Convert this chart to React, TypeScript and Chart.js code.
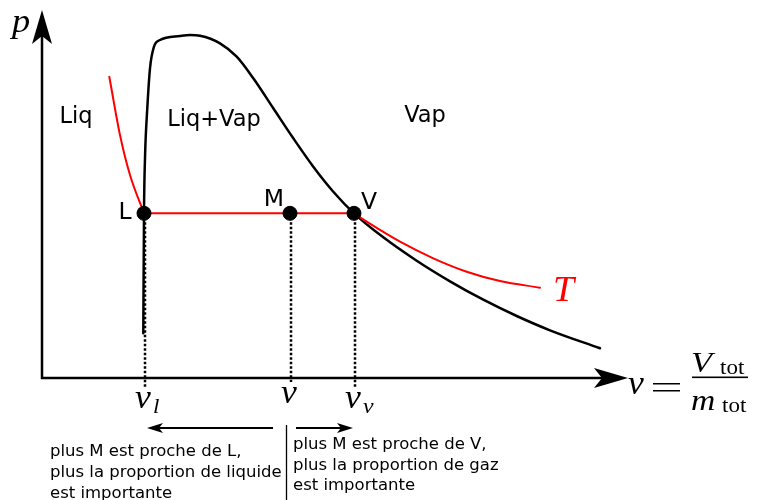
import { useEffect, useRef } from "react";
import { Chart, registerables } from "chart.js";
Chart.register(...registerables);

// Units: specific volume v (horizontal), pressure p (vertical), arbitrary units
const saturationV = [10.13, 10.2, 10.3, 10.53, 10.8, 11.2, 11.8, 13.8, 14.8, 15.8, 17.8, 19.47, 21.13, 23.13, 25.13, 27.13, 29.13, 31.2, 34.13, 37.47, 40.8, 44.13, 47.47, 50.8, 55.8];
const saturationP = [4.47, 16.47, 21.97, 26.97, 30.97, 33.13, 33.8, 34.2, 34.3, 34.23, 33.47, 32.13, 29.97, 26.97, 23.97, 21.13, 18.63, 16.47, 14.07, 11.73, 9.67, 7.83, 6.2, 4.77, 2.97];
const isothermLiqV = [6.73, 7.8, 8.8, 10.2];
const isothermLiqP = [30.13, 24.3, 20.3, 16.47];
const isothermMixV = [10.2, 31.2];
const isothermMixP = [16.47, 16.47];
const isothermVapV = [31.2, 32.47, 35.8, 39.13, 42.47, 45.8, 49.8];
const isothermVapP = [16.47, 15.63, 13.63, 11.97, 10.63, 9.7, 9.03];
const stateNames = ["L", "M", "V"];
const stateV = [10.2, 24.8, 31.2];
const stateP = [16.47, 16.47, 16.47];
const dropEndP = [-0.9, -0.4, -0.9];
const regionLabels = ["Liq", "Liq+Vap", "Vap"];
const regionV = [3.4, 17.2, 38.3];
const regionP = [26.1, 25.8, 26.2];
const leftNote = ["plus M est proche de L,", "plus la proportion de liquide", "est importante"];
const rightNote = ["plus M est proche de V,", "plus la proportion de gaz", "est importante"];

const V_MIN = -4.2, V_MAX = 71.6, P_MIN = -12.2, P_MAX = 37.8;

function stealth(ctx: CanvasRenderingContext2D, tx: number, ty: number, dx: number, dy: number, len: number, half: number, notch: number) {
  const nx = -dy, ny = dx;
  ctx.beginPath();
  ctx.moveTo(tx, ty);
  ctx.lineTo(tx - dx * len + nx * half, ty - dy * len + ny * half);
  ctx.lineTo(tx - dx * (len - notch), ty - dy * (len - notch));
  ctx.lineTo(tx - dx * len - nx * half, ty - dy * len - ny * half);
  ctx.closePath();
  ctx.fill();
}

const diagramPlugin = {
  id: "diagram",
  beforeDatasetsDraw(chart: any) {
    const ctx: CanvasRenderingContext2D = chart.ctx;
    const X = (v: number) => chart.scales.x.getPixelForValue(v);
    const Y = (p: number) => chart.scales.y.getPixelForValue(p);
    ctx.save();
    ctx.strokeStyle = "#000";
    ctx.fillStyle = "#000";
    ctx.lineWidth = 2.5;
    const ox = X(0), oy = Y(0);
    ctx.beginPath();
    ctx.moveTo(ox, oy + 1);
    ctx.lineTo(ox, Y(34.5));
    ctx.moveTo(ox - 1, oy);
    ctx.lineTo(X(56.0), oy);
    ctx.stroke();
    stealth(ctx, ox, Y(36.8), 0, -1, 34, 10, 8);
    stealth(ctx, X(58.6), oy, 1, 0, 34, 10, 8);
    ctx.restore();
  },
  afterDatasetsDraw(chart: any) {
    const ctx: CanvasRenderingContext2D = chart.ctx;
    const X = (v: number) => chart.scales.x.getPixelForValue(v);
    const Y = (p: number) => chart.scales.y.getPixelForValue(p);
    ctx.save();
    ctx.fillStyle = "#000";
    ctx.font = "22.5px 'DejaVu Sans'";
    ctx.textAlign = "center";
    ctx.textBaseline = "middle";
    regionLabels.forEach((t, i) => ctx.fillText(t, X(regionV[i]), Y(regionP[i])));
    ctx.font = "23.5px 'DejaVu Sans'";
    const stateOff = [[-19, 0], [-16, -13], [15, -10]];
    stateNames.forEach((t, i) => ctx.fillText(t, X(stateV[i]) + stateOff[i][0], Y(stateP[i]) + stateOff[i][1]));

    const glyph = (s: string, x: number, y: number, size: number, italic: boolean, sx: number, color = "#000") => {
      ctx.save();
      ctx.font = `${italic ? "italic " : ""}${size}px 'Liberation Serif'`;
      ctx.fillStyle = color;
      ctx.textAlign = "left";
      ctx.textBaseline = "alphabetic";
      ctx.translate(x, y);
      ctx.scale(sx, 1);
      ctx.fillText(s, 0, 0);
      ctx.restore();
    };
    const oy = Y(0);
    glyph("p", 12, 32, 33, true, 1.1);
    const vl = X(stateV[0]), vm = X(stateV[1]), vv = X(stateV[2]);
    glyph("v", vl - 9, oy + 30, 33, true, 1.08);
    glyph("l", vl + 9, oy + 35, 22, true, 1.05);
    glyph("v", vm - 9, oy + 25, 33, true, 1.08);
    glyph("v", vv - 9, oy + 30, 33, true, 1.08);
    glyph("v", vv + 9, oy + 35, 22, true, 1.08);
    // v = V_tot / m_tot
    glyph("v", 628, oy + 16, 33, true, 1.08);
    ctx.fillStyle = "#000";
    ctx.fillRect(653, oy + 5, 27, 1.5);
    ctx.fillRect(653, oy + 12, 27, 1.5);
    ctx.fillRect(692, oy - 1.5, 56, 1.6);
    glyph("V", 691, oy - 6, 30, true, 1.15);
    glyph("tot", 720, oy - 4, 20, false, 1.15);
    glyph("m", 691, oy + 32, 30, true, 1.12);
    glyph("tot", 722, oy + 34, 20, false, 1.15);
    glyph("T", 553, Y(isothermVapP[isothermVapP.length - 1]) + 13, 35, true, 1.08, "#ff0000");

    // bottom arrows
    ctx.fillStyle = "#000";
    ctx.strokeStyle = "#000";
    ctx.lineWidth = 2;
    const ay = oy + 50;
    ctx.beginPath();
    ctx.moveTo(273, ay);
    ctx.lineTo(vl + 12, ay);
    ctx.moveTo(296, ay);
    ctx.lineTo(vv - 10, ay);
    ctx.stroke();
    stealth(ctx, vl + 3, ay, -1, 0, 16, 5, 4);
    stealth(ctx, vv - 1, ay, 1, 0, 16, 5, 4);
    ctx.lineWidth = 1.3;
    ctx.beginPath();
    ctx.moveTo(286.5, oy + 47);
    ctx.lineTo(286.5, 500);
    ctx.stroke();
    ctx.font = "16.5px 'DejaVu Sans'";
    ctx.textAlign = "left";
    ctx.textBaseline = "alphabetic";
    leftNote.forEach((t, i) => ctx.fillText(t, 50, 456 + i * 21));
    rightNote.forEach((t, i) => ctx.fillText(t, 293, 449 + i * 20.5));
    ctx.restore();
  },
};

const App = () => {
  const ref = useRef<HTMLCanvasElement>(null);
  useEffect(() => {
    document.body.style.margin = "0";
    const pts = (xs: number[], ys: number[]) => xs.map((x, i) => ({ x, y: ys[i] }));
    const curve = (xs: number[], ys: number[], color: string, width: number, smooth: boolean) => ({
      data: pts(xs, ys),
      borderColor: color,
      borderWidth: width,
      pointRadius: 0,
      showLine: true,
      tension: smooth ? 0.4 : 0,
      cubicInterpolationMode: smooth ? "monotone" : "default",
      borderCapStyle: "round",
      borderJoinStyle: "round",
    });
    const drops = stateV.map((v, i) => ({
      data: [{ x: v + 0.1, y: stateP[i] }, { x: v + 0.1, y: dropEndP[i] }],
      borderColor: "#000",
      borderWidth: 2.5,
      borderDash: [2.5, 2],
      pointRadius: 0,
      showLine: true,
      tension: 0,
    }));
    const chart = new Chart(ref.current!, {
      type: "scatter",
      data: {
        datasets: [
          {
            data: pts(stateV, stateP),
            backgroundColor: "#000",
            borderColor: "#000",
            pointRadius: 7,
            showLine: false,
          },
          curve(isothermLiqV, isothermLiqP, "#ff0000", 2, true),
          curve(isothermMixV, isothermMixP, "#ff0000", 2, false),
          curve(isothermVapV, isothermVapP, "#ff0000", 2, true),
          curve(saturationV, saturationP, "#000", 2.5, true),
          ...drops,
        ] as any,
      },
      options: {
        animation: false,
        responsive: false,
        devicePixelRatio: 1,
        layout: { padding: 0, autoPadding: false },
        events: [],
        plugins: { legend: { display: false }, tooltip: { enabled: false } },
        scales: {
          x: { type: "linear", min: V_MIN, max: V_MAX, display: false },
          y: { type: "linear", min: P_MIN, max: P_MAX, display: false },
        },
      },
      plugins: [diagramPlugin],
    });
    return () => chart.destroy();
  }, []);
  return (
    <div style={{ position: "absolute", left: 0, top: 0, width: 758, height: 500 }}>
      <canvas ref={ref} width={758} height={500} style={{ display: "block" }} />
    </div>
  );
};

export default App;
